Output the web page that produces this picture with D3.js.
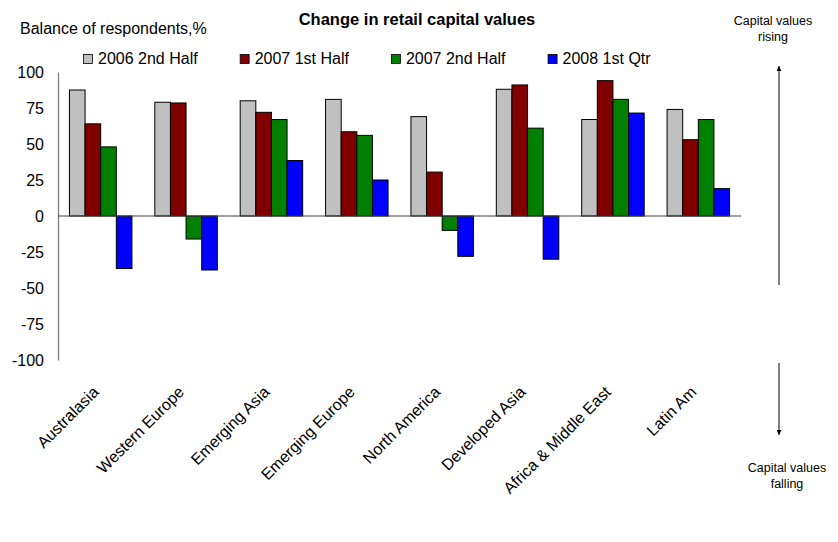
<!DOCTYPE html>
<html>
<head>
<meta charset="utf-8">
<script src="https://cdn.jsdelivr.net/npm/d3@7"></script>
<style>
  html, body { margin: 0; padding: 0; background: #fff; }
  svg { display: block; font-family: "Liberation Sans", Arial, sans-serif; }
</style>
</head>
<body>
<svg id="chart" width="838" height="542"></svg>
<script>
// Regions surveyed
const regions = ["Australasia", "Western Europe", "Emerging Asia", "Emerging Europe",
                 "North America", "Developed Asia", "Africa & Middle East", "Latin Am"];

// Survey periods
const periods = ["2006 2nd Half", "2007 1st Half", "2007 2nd Half", "2008 1st Qtr"];

// Balance of respondents (%) per region, one array per period
const h2_2006 = [87.5, 79, 80, 81, 69, 88, 67, 74];
const h1_2007 = [64, 78.5, 72, 58.5, 30.5, 91, 94, 53];
const h2_2007 = [48, -16, 67, 56, -10, 61, 81, 67];
const q1_2008 = [-36.5, -37.5, 38.5, 25, -28, -30, 71.5, 19];

const seriesValues = [h2_2006, h1_2007, h2_2007, q1_2008];
const colors = ["#c0c0c0", "#800000", "#008000", "#0000ff"];

const yTicks = [100, 75, 50, 25, 0, -25, -50, -75, -100];

const svg = d3.select("#chart");
const plotLeft = 58, plotRight = 741, plotTop = 72, plotBottom = 360;

const x0 = d3.scaleBand().domain(regions).range([plotLeft, plotRight])
  .paddingInner(0.268).paddingOuter(0.134);
const x1 = d3.scaleBand().domain(periods).range([0, x0.bandwidth()]);
const y = d3.scaleLinear().domain([-100, 100]).range([plotBottom, plotTop]);

// Title and axis caption
svg.append("text").attr("x", 417).attr("y", 25).attr("text-anchor", "middle")
  .attr("font-size", 16.5).attr("font-weight", "bold").text("Change in retail capital values");
svg.append("text").attr("x", 20).attr("y", 34).attr("font-size", 16)
  .text("Balance of respondents,%");

// Legend laid out left to right
let lx = 83;
periods.forEach((p, i) => {
  const g = svg.append("g").attr("transform", `translate(${lx},0)`);
  g.append("rect").attr("x", 0.5).attr("y", 54.5).attr("width", 9).attr("height", 9)
    .attr("fill", colors[i]).attr("stroke", "#000").attr("stroke-width", 0.8);
  const t = g.append("text").attr("x", 15).attr("y", 64).attr("font-size", 16).text(p);
  lx += 15 + t.node().getComputedTextLength() + 42;
});

// Y axis (plain hyphen for negative labels)
const yAxis = d3.axisLeft(y).tickValues(yTicks).tickSize(0).tickPadding(14)
  .tickFormat(d => String(d));
const ya = svg.append("g").attr("transform", `translate(${plotLeft},0)`).call(yAxis);
ya.select(".domain").attr("stroke", "#808080").attr("stroke-width", 1.3);
ya.selectAll("text").attr("font-size", 16).attr("fill", "#000")
  .attr("font-family", "Liberation Sans, Arial, sans-serif");

// Bars
const groups = svg.append("g").selectAll("g").data(regions).join("g")
  .attr("transform", d => `translate(${x0(d)},0)`);
groups.selectAll("rect")
  .data((d, ri) => periods.map((p, si) => ({ p, v: seriesValues[si][ri], c: colors[si] })))
  .join("rect")
  .attr("x", d => x1(d.p))
  .attr("y", d => y(Math.max(0, d.v)))
  .attr("width", x1.bandwidth())
  .attr("height", d => Math.abs(y(d.v) - y(0)))
  .attr("fill", d => d.c)
  .attr("stroke", "#000").attr("stroke-width", 1);

// Zero line
svg.append("line").attr("x1", plotLeft).attr("x2", plotRight).attr("y1", y(0)).attr("y2", y(0))
  .attr("stroke", "#404040").attr("stroke-width", 1.2);

// Category labels
svg.append("g").selectAll("text").data(regions).join("text")
  .attr("transform", d => `translate(${x0(d) + x0.bandwidth() / 2 - 1},393) rotate(-45)`)
  .attr("text-anchor", "end").attr("font-size", 16).text(d => d);

// Direction annotations
const defs = svg.append("defs");
defs.append("marker").attr("id", "arrow").attr("viewBox", "0 0 10 10")
  .attr("refX", 10).attr("refY", 5).attr("markerWidth", 5).attr("markerHeight", 5)
  .attr("orient", "auto").append("path").attr("d", "M0,0L10,5L0,10Z").attr("fill", "#000");

svg.append("line").attr("x1", 779).attr("x2", 779).attr("y1", 285).attr("y2", 66)
  .attr("stroke", "#000").attr("stroke-width", 1).attr("marker-end", "url(#arrow)");
svg.append("line").attr("x1", 779).attr("x2", 779).attr("y1", 363).attr("y2", 435)
  .attr("stroke", "#000").attr("stroke-width", 1).attr("marker-end", "url(#arrow)");

const up = svg.append("text").attr("text-anchor", "middle").attr("font-size", 12.5);
up.append("tspan").attr("x", 773).attr("y", 25).text("Capital values");
up.append("tspan").attr("x", 773).attr("y", 41).text("rising");
const down = svg.append("text").attr("text-anchor", "middle").attr("font-size", 12.5);
down.append("tspan").attr("x", 787).attr("y", 472).text("Capital values");
down.append("tspan").attr("x", 787).attr("y", 488).text("falling");
</script>
</body>
</html>
